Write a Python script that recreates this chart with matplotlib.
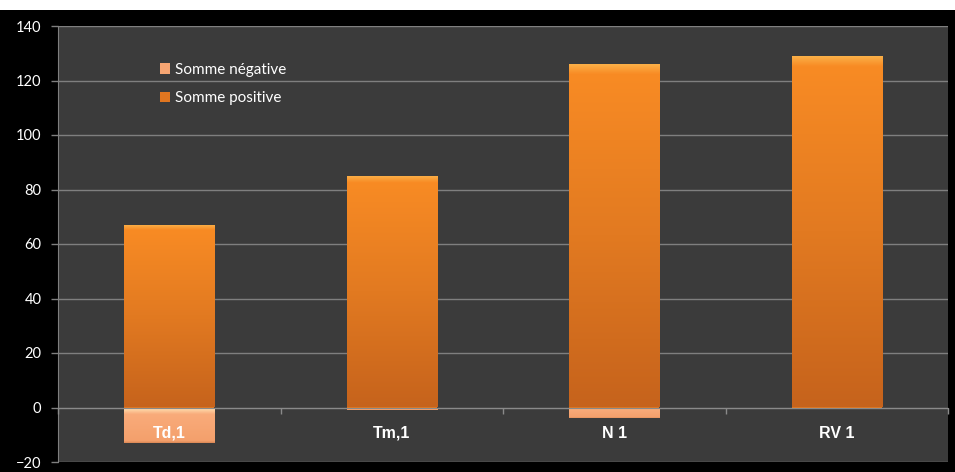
import numpy as np
import matplotlib
matplotlib.use("Agg")
import matplotlib.pyplot as plt
from matplotlib.patches import Rectangle
from matplotlib.colors import LinearSegmentedColormap

categories = ["Td,1", "Tm,1", "N 1", "RV 1"]
somme_negative = [-13, -1, -4, 0]
somme_positive = [67, 85, 126, 129]
yticks = [-20, 0, 20, 40, 60, 80, 100, 120, 140]

fig = plt.figure(figsize=(9.55, 4.72), dpi=100, facecolor="white")
fig.patches.append(Rectangle((0, 0), 1, 1 - 10 / 472, transform=fig.transFigure,
                             facecolor="black", edgecolor="none", zorder=-10))
ax = fig.add_axes([58 / 955, 1 - 462 / 472, (948 - 58) / 955, (462 - 26) / 472])
ax.set_facecolor("#3b3b3b")

x = np.arange(len(categories))
w = 0.405
pos_cmap = LinearSegmentedColormap.from_list(
    "pos", [(0, "#c6631c"), (0.5, "#e27a21"), (0.97, "#f88b24"), (1.0, "#fbb24a")])
neg_cmap = LinearSegmentedColormap.from_list(
    "neg", [(0, "#d98654"), (0.06, "#f4a06c"), (0.8, "#f9ab7a"), (0.93, "#fdd3a4"), (1.0, "#fff3d4")])

bars_pos = ax.bar(x, somme_positive, w, color="#e07620", edgecolor="none", zorder=3,
                  label="Somme positive")
bars_neg = ax.bar(x, somme_negative, w, color="#f6a572", edgecolor="none", zorder=3,
                  label="Somme négative")

grad = np.linspace(0, 1, 256).reshape(-1, 1)
for patches, cmap in ((bars_pos, pos_cmap), (bars_neg, neg_cmap)):
    for p in patches:
        x0, y0 = p.get_x(), p.get_y()
        ww, hh = p.get_width(), p.get_height()
        if hh == 0:
            continue
        ylo, yhi = min(y0, y0 + hh), max(y0, y0 + hh)
        im = ax.imshow(grad, cmap=cmap, aspect="auto", origin="lower",
                       extent=(x0, x0 + ww, ylo, yhi), zorder=3.5, interpolation="bilinear")
        im.set_clip_path(p)

ax.set_xlim(-0.5, len(categories) - 0.5)
ax.set_ylim(-20, 140)
ax.set_yticks(yticks)
ax.yaxis.grid(True, color="#7f7f7f", linewidth=1.0)
ax.set_axisbelow(True)

for s in ("top", "right"):
    ax.spines[s].set_visible(False)
ax.spines["left"].set_color("#7f7f7f")
ax.spines["bottom"].set_color("#8a8a8a")
ax.spines["bottom"].set_position(("data", 0))
ax.spines["bottom"].set_zorder(4)

ax.tick_params(axis="y", colors="#7f7f7f", length=5, width=1, pad=7, labelcolor="white",
               labelsize=10.5)
for t in ax.get_yticklabels():
    t.set_fontfamily("Lato")

ax.set_xticks(np.arange(len(categories) + 1) - 0.5)
ax.set_xticklabels([])
ax.tick_params(axis="x", which="major", colors="#8a8a8a", length=4, width=1, direction="out")
ax.set_xticks(x, minor=True)
ax.set_xticklabels(categories, minor=True)
ax.tick_params(axis="x", which="minor", length=0, pad=13, labelcolor="white", labelsize=11.5)
for t in ax.get_xticklabels(minor=True):
    t.set_fontfamily("Liberation Sans")
    t.set_fontweight("bold")
ax.xaxis.set_zorder(6)

handles = [bars_neg, bars_pos]
leg = ax.legend(handles, ["Somme négative", "Somme positive"], loc="upper left",
                bbox_to_anchor=((146 - 58) / 890, (462 - 49) / 436), frameon=False,
                handlelength=0.7, handleheight=0.7, handletextpad=0.3, labelspacing=0.95,
                prop={"family": "Lato", "size": 11})
for t in leg.get_texts():
    t.set_color("white")

fig.savefig("out.png", dpi=100, facecolor=fig.get_facecolor())
